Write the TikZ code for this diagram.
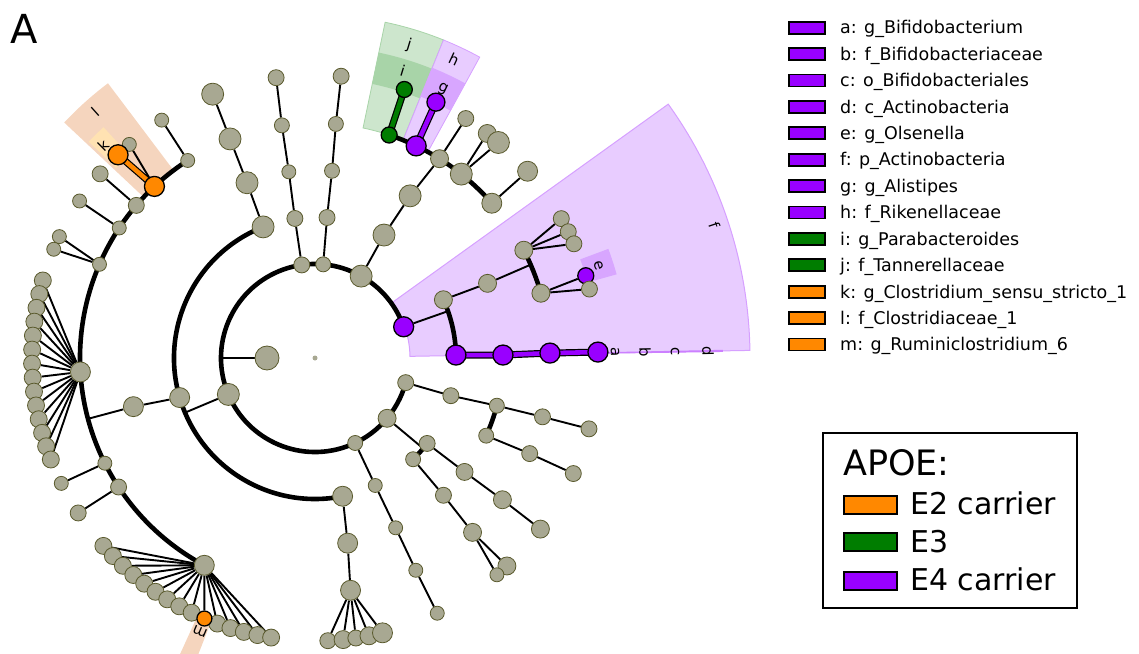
\documentclass[tikz,border=0pt]{standalone}
\usepackage{fontspec}
\setmainfont{DejaVu Sans}
\definecolor{ngray}{RGB}{168,168,146}
\definecolor{nedge}{RGB}{90,90,45}
\definecolor{cpur}{RGB}{153,0,255}
\definecolor{cgrn}{RGB}{0,125,0}
\definecolor{corg}{RGB}{255,136,0}
\definecolor{hpur}{RGB}{232,204,255}
\definecolor{hpurd}{RGB}{216,166,255}
\definecolor{hpurb}{RGB}{214,160,255}
\definecolor{hgrn}{RGB}{205,230,205}
\definecolor{hgrnd}{RGB}{168,212,168}
\definecolor{horg}{RGB}{245,213,190}
\definecolor{hyel}{RGB}{255,226,178}
\pgfdeclarelayer{hl}
\pgfdeclarelayer{edges}
\pgfsetlayers{hl,edges,main}
\newcommand\hlsector[5]{\fill[#1] (#2:#4) arc[start angle=#2, end angle=#3, radius=#4] -- (#3:#5) arc[start angle=#3, end angle=#2, radius=#5] -- cycle;}
\begin{document}
\begin{tikzpicture}[x=1pt,y=1pt,
 gn/.style={circle, fill=ngray, draw=nedge, line width=0.8pt, minimum size=#1pt, inner sep=0pt},
 pn/.style={circle, fill=cpur, draw=black, line width=1.3pt, minimum size=#1pt, inner sep=0pt},
 grn/.style={circle, fill=cgrn, draw=black, line width=1.3pt, minimum size=#1pt, inner sep=0pt},
 orn/.style={circle, fill=corg, draw=black, line width=1.3pt, minimum size=#1pt, inner sep=0pt},
 arcline/.style={line width=4.6pt, black},
 edgeline/.style={line width=1.9pt, black},
 outline/.style={line width=7pt, black, line cap=round, line join=round},
 colline/.style={line width=4.6pt, #1, line cap=round, line join=round},
 lab/.style={font=\fontsize{15}{17}\selectfont, inner sep=0pt},
 swatch/.style={draw=black, line width=1.8pt, minimum width=36pt, minimum height=12pt, inner sep=0pt},
 bigswatch/.style={draw=black, line width=2pt, minimum width=53pt, minimum height=18pt, inner sep=0pt},
 legtext/.style={anchor=base west, inner sep=0pt, font=\fontsize{17.5}{20}\selectfont},
 boxtext/.style={anchor=base west, inner sep=0pt, font=\fontsize{30}{34}\selectfont},
]
\useasboundingbox (-315,-295) rectangle (824,358);

% ---------- highlights ----------
\begin{pgfonlayer}{hl}
\hlsector{hpur, draw=hpurb, line width=1pt}{1}{35.7}{95}{435}
\hlsector{hpurd}{15.5}{20.4}{283}{313}
\hlsector{cpur!50}{0.85}{1.15}{292}{408}
\hlsector{hgrn, draw=hgrnd, line width=0.8pt}{68}{78.2}{235}{343}
\hlsector{hgrnd}{68}{78.2}{280}{312}
\hlsector{hpur, draw=hpurb, line width=0.8pt}{61.3}{68}{235}{343}
\hlsector{hpurd}{61.3}{68}{282}{313}
\hlsector{horg}{127}{136.8}{237}{344}
\hlsector{hyel}{132.5}{136.3}{275}{313}
\hlsector{horg}{245.5}{248.5}{285}{330}
\end{pgfonlayer}

% ---------- nodes ----------
\node[circle, fill=ngray, inner sep=0pt, minimum size=5pt] (root) at (0,0) {};
\node[gn=24] (K) at (180:48) {};
% phyla
\node[pn=20] (P1) at (19.4:94) {};
\node[gn=22] (P2) at (60.6:94) {};
\node[gn=15] (P3) at (85.0:94) {};
\node[gn=16] (P4) at (98.1:94) {};
\node[gn=22] (P5) at (202.8:94) {};
\node[gn=15] (P6) at (295.3:94) {};
\node[gn=18] (P7) at (320.1:94) {};
\node[gn=16] (P8) at (344.8:94) {};
% classes
\node[gn=16] (C4) at (98.2:141) {};
\node[gn=16] (C3) at (85.1:141) {};
\node[gn=22] (C2) at (60.7:141) {};
\node[gn=18] (Ca) at (24.4:141) {};
\node[pn=20] (Dd) at (1.2:141) {};
\node[gn=22] (C5a) at (111.6:141) {};
\node[gn=20] (C5b) at (196.3:141) {};
\node[gn=20] (C5c) at (281.3:141) {};
\node[gn=14] (C6) at (295.3:141) {};
\node[gn=16] (C7a) at (322.7:141) {};
\node[gn=15] (C7b) at (314.1:141) {};
\node[gn=16] (C8) at (344.5:141) {};
% orders
\node[gn=14] (O4) at (98.0:188) {};
\node[gn=15] (O3) at (84.8:188) {};
\node[gn=22] (O2) at (59.6:188) {};
\node[gn=18] (O1) at (23.4:188) {};
\node[pn=20] (Oc) at (0.9:188) {};
\node[gn=22] (O5a) at (111.2:188) {};
\node[gn=20] (O5b) at (195.0:188) {};
\node[gn=20] (O5c) at (280.0:188) {};
\node[gn=14] (O6) at (295.4:188) {};
\node[gn=17] (O7a) at (322.7:188) {};
\node[gn=16] (O7b) at (313.1:188) {};
\node[gn=15] (O8a) at (345.3:188) {};
\node[gn=15] (O8b) at (335.6:188) {};
% families
\node[gn=15] (F4) at (98.1:235) {};
\node[gn=15] (F3) at (84.9:235) {};
\node[grn=16] (Fj) at (71.6:235) {};
\node[pn=20] (Fh) at (64.5:235) {};
\node[gn=18] (F2c) at (58.0:235) {};
\node[gn=22] (F2d) at (51.5:235) {};
\node[gn=20] (F2e) at (41.2:235) {};
\node[gn=18] (F1a) at (27.3:235) {};
\node[gn=18] (F1b) at (16.0:235) {};
\node[pn=20] (Fb) at (1.2:235) {};
\node[gn=22] (F5a) at (111.2:235) {};
\node[gn=14] (F5bA) at (122.8:235) {};
\node[orn=20] (Fl) at (133.1:235) {};
\node[gn=16] (F5bC) at (139.5:235) {};
\node[gn=14] (F5bD) at (146.4:235) {};
\node[gn=14] (F5bE) at (156.5:235) {};
\node[gn=20] (F5bF) at (183.4:235) {};
\node[gn=14] (F5bG) at (206.6:235) {};
\node[gn=16] (F5bH) at (213.3:235) {};
\node[gn=20] (F5bI) at (241.9:235) {};
\node[gn=20] (F5c) at (278.7:235) {};
\node[gn=14] (F6) at (295.4:235) {};
\node[gn=18] (F7a) at (322.9:235) {};
\node[gn=18] (F7b) at (312.1:235) {};
\node[gn=16] (F8a) at (345.5:235) {};
\node[gn=16] (F8b) at (336.0:235) {};
% genera
\node[gn=16] (G4) at (97.9:283) {};
\node[gn=16] (G3) at (84.7:283) {};
\node[grn=16] (Gi) at (71.6:283) {};
\node[pn=18] (Gg) at (64.7:283) {};
\node[gn=16] (G2c) at (57.8:283) {};
\node[gn=18] (G2dA) at (52.5:283) {};
\node[gn=22] (G2dB) at (49.6:283) {};
\node[gn=20] (G2e) at (41.3:283) {};
\node[gn=16] (G1aA) at (29.5:283) {};
\node[gn=16] (G1aB) at (26.5:283) {};
\node[gn=16] (G1aC) at (23.8:283) {};
\node[pn=16] (Ge) at (16.9:283) {};
\node[gn=16] (G1bB) at (14.1:283) {};
\node[pn=20] (Ga) at (1.2:283) {};
\node[gn=22] (G5a) at (111.2:283) {};
\node[gn=14] (G5bA) at (122.8:283) {};
\node[gn=14] (Gkx) at (131.0:283) {};
\node[orn=20] (Gk) at (134.1:283) {};
\node[gn=16] (G5bC) at (139.4:283) {};
\node[gn=14] (G5bD) at (146.3:283) {};
\node[gn=14] (G5bEa) at (154.6:283) {};
\node[gn=14] (G5bEb) at (157.4:283) {};
\foreach \i in {1,...,14} {
  \pgfmathsetmacro\ang{164.1+(\i-1)*2.84}
  \node[gn=17] (fsix\i) at (\ang:283) {};
}
\node[gn=14] (G5bG) at (206.3:283) {};
\node[gn=16] (G5bH) at (213.2:283) {};
\foreach \i in {1,...,9,11,12,13,14,15} {
  \pgfmathsetmacro\ang{221.6+(\i-1)*2.82}
  \node[gn=17] (fnine\i) at (\ang:283) {};
}
\node[orn=15] (Gm) at (247.0:283) {};
\node[gn=16] (fcA) at (272.6:283) {};
\node[gn=18] (fcB) at (275.7:283) {};
\node[gn=16] (fcC) at (278.3:283) {};
\node[gn=18] (fcD) at (281.0:283) {};
\node[gn=20] (fcE) at (283.8:283) {};
\node[gn=14] (G6) at (295.6:283) {};
\node[gn=18] (G7a) at (322.8:283) {};
\node[gn=18] (G7bA) at (312.7:283) {};
\node[gn=14] (G7bB) at (310.0:283) {};
\node[gn=16] (G8a) at (345.5:283) {};
\node[gn=16] (G8b) at (335.9:283) {};

% connection points on arcs
\coordinate (q0) at (180:94);
\coordinate (qA) at (19.4:141);
\coordinate (qF) at (202.8:141);
\coordinate (q7) at (320.1:141);
\coordinate (q1) at (23.4:235);
\coordinate (q5) at (195.0:235);

% ---------- edges and arcs ----------
\begin{pgfonlayer}{edges}
\draw[arcline] (P1.center) arc[start angle=19.4, end angle=344.8, radius=94];
\draw[arcline] (Ca.center) arc[start angle=24.4, end angle=1.2, radius=141];
\draw[arcline] (C5a.center) arc[start angle=111.6, end angle=281.3, radius=141];
\draw[arcline] (C7b.center) arc[start angle=314.1, end angle=322.7, radius=141];
\draw[arcline] (O8b.center) arc[start angle=335.6, end angle=345.3, radius=188];
\draw[arcline] (Fj.center) arc[start angle=71.6, end angle=41.2, radius=235];
\draw[arcline] (F1a.center) arc[start angle=27.3, end angle=16.0, radius=235];
\draw[arcline] (F5bA.center) arc[start angle=122.8, end angle=241.9, radius=235];

\draw[edgeline] (K) -- (q0);
\draw[edgeline] (P1) -- (qA);
\draw[edgeline] (P2) -- (C2);
\draw[edgeline] (P3) -- (C3);
\draw[edgeline] (P4) -- (C4);
\draw[edgeline] (P5) -- (qF);
\draw[edgeline] (P6) -- (C6);
\draw[edgeline] (P7) -- (q7);
\draw[edgeline] (P8) -- (C8);
\draw[edgeline] (C4) -- (O4);
\draw[edgeline] (C3) -- (O3);
\draw[edgeline] (C2) -- (O2);
\draw[edgeline] (Ca) -- (O1);
\draw[edgeline] (C5a) -- (O5a);
\draw[edgeline] (C5b) -- (O5b);
\draw[edgeline] (C5c) -- (O5c);
\draw[edgeline] (C6) -- (O6);
\draw[edgeline] (C7a) -- (O7a);
\draw[edgeline] (C7b) -- (O7b);
\draw[edgeline] (C8) -- (O8a);
\draw[edgeline] (O4) -- (F4);
\draw[edgeline] (O3) -- (F3);
\draw[edgeline] (O2) -- (F2c);
\draw[edgeline] (O1) -- (q1);
\draw[edgeline] (O5a) -- (F5a);
\draw[edgeline] (O5b) -- (q5);
\draw[edgeline] (O5c) -- (F5c);
\draw[edgeline] (O6) -- (F6);
\draw[edgeline] (O7a) -- (F7a);
\draw[edgeline] (O7b) -- (F7b);
\draw[edgeline] (O8a) -- (F8a);
\draw[edgeline] (O8b) -- (F8b);
\draw[edgeline] (F4) -- (G4);
\draw[edgeline] (F3) -- (G3);
\draw[edgeline] (F2c) -- (G2c);
\draw[edgeline] (F2d) -- (G2dA);
\draw[edgeline] (F2d) -- (G2dB);
\draw[edgeline] (F2e) -- (G2e);
\draw[edgeline] (F1a) -- (G1aA);
\draw[edgeline] (F1a) -- (G1aB);
\draw[edgeline] (F1a) -- (G1aC);
\draw[edgeline] (F1b) -- (Ge);
\draw[edgeline] (F1b) -- (G1bB);
\draw[edgeline] (F5a) -- (G5a);
\draw[edgeline] (F5bA) -- (G5bA);
\draw[edgeline] (Fl) -- (Gkx);
\draw[edgeline] (F5bC) -- (G5bC);
\draw[edgeline] (F5bD) -- (G5bD);
\draw[edgeline] (F5bE) -- (G5bEa);
\draw[edgeline] (F5bE) -- (G5bEb);
\foreach \i in {1,...,14} \draw[edgeline] (F5bF) -- (fsix\i);
\draw[edgeline] (F5bG) -- (G5bG);
\draw[edgeline] (F5bH) -- (G5bH);
\foreach \i in {1,...,9,11,12,13,14,15} \draw[edgeline] (F5bI) -- (fnine\i);
\draw[edgeline] (F5bI) -- (Gm);
\foreach \n in {fcA,fcB,fcC,fcD,fcE} \draw[edgeline] (F5c) -- (\n);
\draw[edgeline] (F6) -- (G6);
\draw[edgeline] (F7a) -- (G7a);
\draw[edgeline] (F7b) -- (G7bA);
\draw[edgeline] (F7b) -- (G7bB);
\draw[edgeline] (F8a) -- (G8a);
\draw[edgeline] (F8b) -- (G8b);

% coloured clades
\draw[outline] (Dd.center) -- (Oc.center) -- (Fb.center) -- (Ga.center);
\draw[colline=cpur] (Dd.center) -- (Oc.center) -- (Fb.center) -- (Ga.center);
\draw[outline] (Fh.center) -- (Gg.center);
\draw[colline=cpur] (Fh.center) -- (Gg.center);
\draw[outline] (Fj.center) -- (Gi.center);
\draw[colline=cgrn] (Fj.center) -- (Gi.center);
\draw[outline] (Fl.center) -- (Gk.center);
\draw[colline=corg] (Fl.center) -- (Gk.center);
\end{pgfonlayer}

% ---------- clade labels ----------
\node[lab, rotate=-88.9] (la) at (1.1:300) {a};
\node[lab, rotate=-89] (lb) at (1.0:330) {b};
\node[lab, rotate=-89] (lc) at (1.0:360) {c};
\node[lab, rotate=-89] (ld) at (1.0:393) {d};
\node[lab, rotate=-72] (le) at (18:298) {e};
\node[lab, rotate=-71.6] (lf) at (18.4:421) {f};
\node[lab, rotate=-25.4] (lg) at (64.6:298) {g};
\node[lab, rotate=-25] (lh) at (65:329) {h};
\node[lab, rotate=-17] (li) at (73:300) {i};
\node[lab, rotate=-16.7] (lj) at (73.3:327) {j};
\node[lab, rotate=44.9] (lk) at (134.9:300) {k};
\node[lab, rotate=41.8] (ll) at (131.8:330) {l};
\node[lab, rotate=157.2] (lm) at (247.2:297) {m};

% ---------- panel letter ----------
\node[anchor=base west, inner sep=0pt, font=\fontsize{40}{44}\selectfont] (panelA) at (-305,314) {A};

% ---------- clade legend ----------
\foreach \t/\c [count=\k from 0] in {a: g\_Bifidobacterium/cpur, b: f\_Bifidobacteriaceae/cpur, c: o\_Bifidobacteriales/cpur, d: c\_Actinobacteria/cpur, e: g\_Olsenella/cpur, f: p\_Actinobacteria/cpur, g: g\_Alistipes/cpur, h: f\_Rikenellaceae/cpur, i: g\_Parabacteroides/cgrn, j: f\_Tannerellaceae/cgrn, k: g\_Clostridium\_sensu\_stricto\_1/corg, l: f\_Clostridiaceae\_1/corg, m: g\_Ruminiclostridium\_6/corg} {
  \pgfmathsetmacro\yc{330.3-26.4*\k}
  \node[swatch, fill=\c] (sw\k) at (492,\yc) {};
  \node[legtext] (lt\k) at (525,\yc-6.3) {\t};
}

% ---------- APOE legend ----------
\node[draw=black, line width=2.5pt, minimum width=254pt, minimum height=175pt, inner sep=0pt] (box) at (635,-162.5) {};
\node[anchor=base west, inner sep=0pt, font=\fontsize{35}{38}\selectfont] (apoe) at (528,-117) {APOE:};
\node[bigswatch, fill=corg] (swE2) at (555.5,-147) {};
\node[bigswatch, fill=cgrn] (swE3) at (555.5,-184) {};
\node[bigswatch, fill=cpur] (swE4) at (555.5,-222.5) {};
\node[boxtext] (tE2) at (595,-156) {E2 carrier};
\node[boxtext] (tE3) at (595,-194) {E3};
\node[boxtext] (tE4) at (595,-232) {E4 carrier};
\end{tikzpicture}
\end{document}
